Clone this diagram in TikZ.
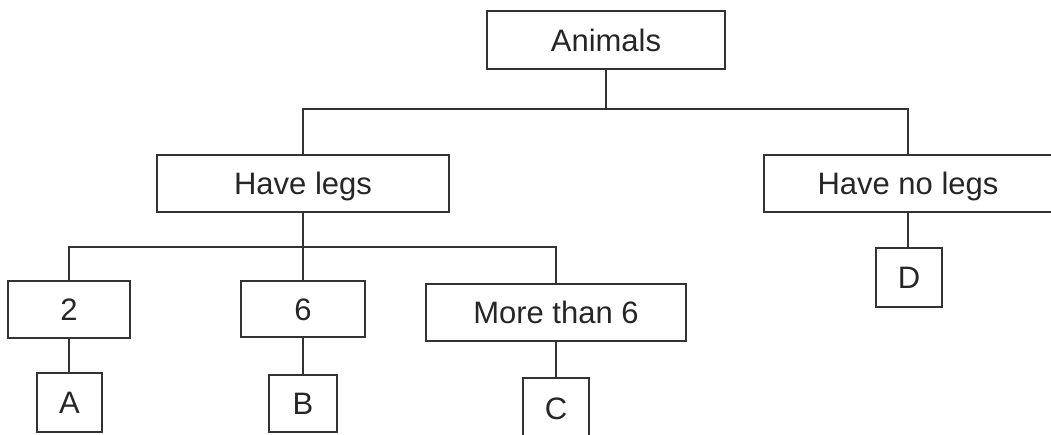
\documentclass[tikz,border=0pt]{standalone}
\usepackage{fontspec}
\setmainfont{Liberation Sans}
\begin{document}
\begin{tikzpicture}[x=1pt,y=-1pt,
  box/.style={draw=black!80, line width=1.4pt, rectangle, inner sep=0pt,
    text=black!85, font=\fontsize{31}{36}\selectfont,
    text height=22pt, text depth=0pt, align=center},
  link/.style={draw=black!80, line width=1.4pt}]
\useasboundingbox (0,0) rectangle (1051,434);
% level 0
\node[box, minimum width=238pt, minimum height=58pt] (animals) at (606,40) {Animals};
% level 1
\node[box, minimum width=292pt, minimum height=57pt] (legs) at (303,183.5) {Have legs};
\node[box, minimum width=288pt, minimum height=57pt] (nolegs) at (908,183.5) {Have no legs};
% level 2
\node[box, minimum width=122pt, minimum height=57pt] (two) at (69,309.5) {2};
\node[box, minimum width=124pt, minimum height=56pt] (six) at (303,309) {6};
\node[box, minimum width=260pt, minimum height=57pt] (more) at (556,312.5) {More than 6};
\node[box, minimum width=66pt, minimum height=59pt] (D) at (909,277.5) {D};
% level 3
\node[box, minimum width=65pt, minimum height=59pt] (A) at (69.5,402.5) {A};
\node[box, minimum width=68pt, minimum height=57pt] (B) at (303,403.5) {B};
\node[box, minimum width=66pt, minimum height=60pt] (C) at (556,408) {C};
% junctions
\coordinate (j1) at (606,109);
\coordinate (j2) at (303,247);
% connectors
\draw[link] (animals.south) -- (j1);
\draw[link] (legs.north) |- (j1) -| (nolegs.north);
\draw[link] (legs.south) -- (six.north);
\draw[link] (two.north) |- (j2) -| (more.north);
\draw[link] (two.south) -- (two.south |- A.north);
\draw[link] (six.south) -- (B.north);
\draw[link] (more.south) -- (C.north);
\draw[link] (nolegs.south) -- (nolegs.south |- D.north);
\end{tikzpicture}
\end{document}
